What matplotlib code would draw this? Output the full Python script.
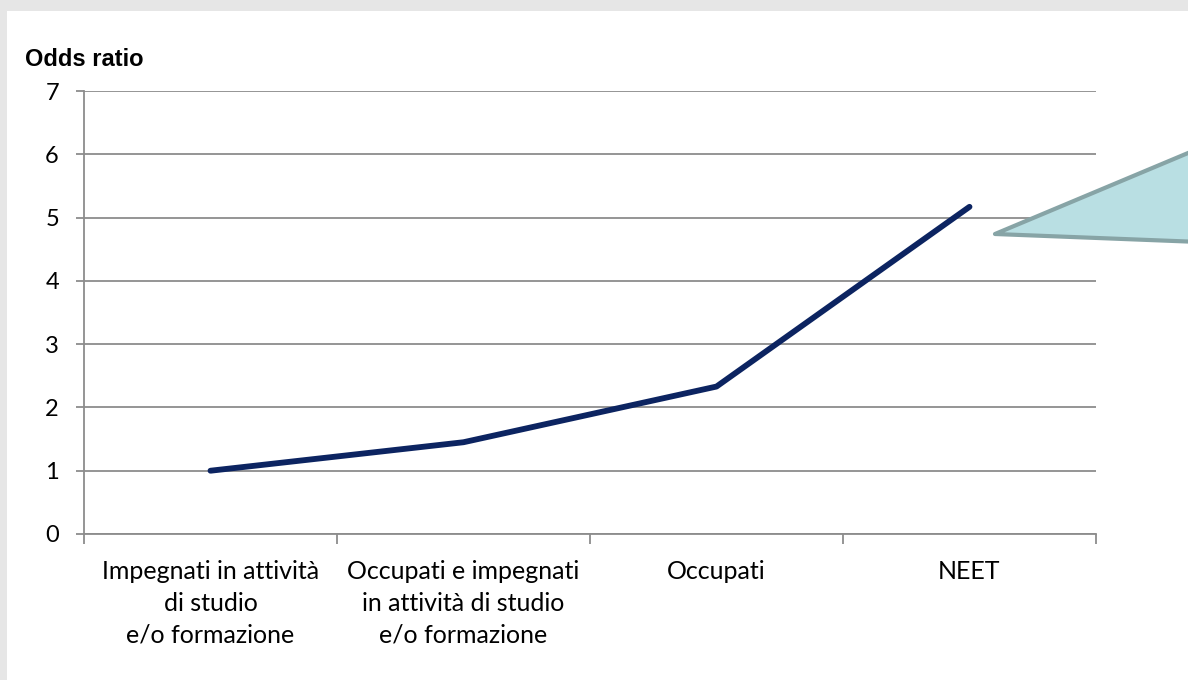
import matplotlib
matplotlib.use("Agg")
import matplotlib.pyplot as plt
from matplotlib.patches import Polygon, Rectangle
import numpy as np

categories = ["Impegnati in attività\ndi studio\ne/o formazione",
              "Occupati e impegnati\nin attività di studio\ne/o formazione",
              "Occupati",
              "NEET"]
odds_ratio = [1.0, 1.45, 2.33, 5.17]
y_ticks = [0, 1, 2, 3, 4, 5, 6, 7]

W, H = 1188, 680
fig = plt.figure(figsize=(W / 100, H / 100), dpi=100)
fig.patch.set_facecolor("#e6e6e6")
# white panel
fig.add_artist(Rectangle((7 / W, 0), 1 - 7 / W, 1 - 11 / H, transform=fig.transFigure,
                         facecolor="white", edgecolor="none", zorder=0))

ax = fig.add_axes([84 / W, 1 - 534 / H, (1096 - 84) / W, (534 - 91) / H])
ax.set_facecolor("none")

x = np.arange(len(categories)) + 0.5
ax.plot(x, odds_ratio, color="#0c2461", lw=4.2, solid_capstyle="round",
        solid_joinstyle="round", zorder=3)

ax.set_xlim(0, len(categories))
ax.set_ylim(0, 7)
grid_c = "#8c8c8c"
ax.set_yticks(y_ticks)
ax.set_yticklabels([str(v) for v in y_ticks], fontfamily="Lato", fontsize=17)
ax.yaxis.grid(True, color=grid_c, lw=1.3)
ax.set_axisbelow(True)
ax.tick_params(axis="y", length=6, width=1.3, color=grid_c, pad=12)

ax.set_xticks(x)
ax.set_xticklabels(categories, fontfamily="Lato", fontsize=18, linespacing=1.45)
ax.set_xticks(np.arange(len(categories) + 1), minor=True)
ax.tick_params(axis="x", which="major", length=0, pad=19)
ax.tick_params(axis="x", which="minor", length=7, width=1.3, color=grid_c)

for s in ["top", "right"]:
    ax.spines[s].set_visible(False)
for s in ["left", "bottom"]:
    ax.spines[s].set_color(grid_c)
    ax.spines[s].set_linewidth(1.3)

fig.text(25 / W, 1 - 66 / H, "Odds ratio", fontfamily="Liberation Sans",
         fontweight="bold", fontsize=17, ha="left", va="baseline")

# callout pointer (speech bubble partly outside the frame)
pts = [(995, 234), (1200, 148), (1200, 242)]
fig.add_artist(Polygon([(px / W, 1 - py / H) for px, py in pts], closed=True,
                       transform=fig.transFigure, facecolor="#b9dfe3",
                       edgecolor="#87a4a6", lw=3, joinstyle="round", zorder=5))

fig.savefig("out.png", dpi=100, facecolor=fig.get_facecolor())
